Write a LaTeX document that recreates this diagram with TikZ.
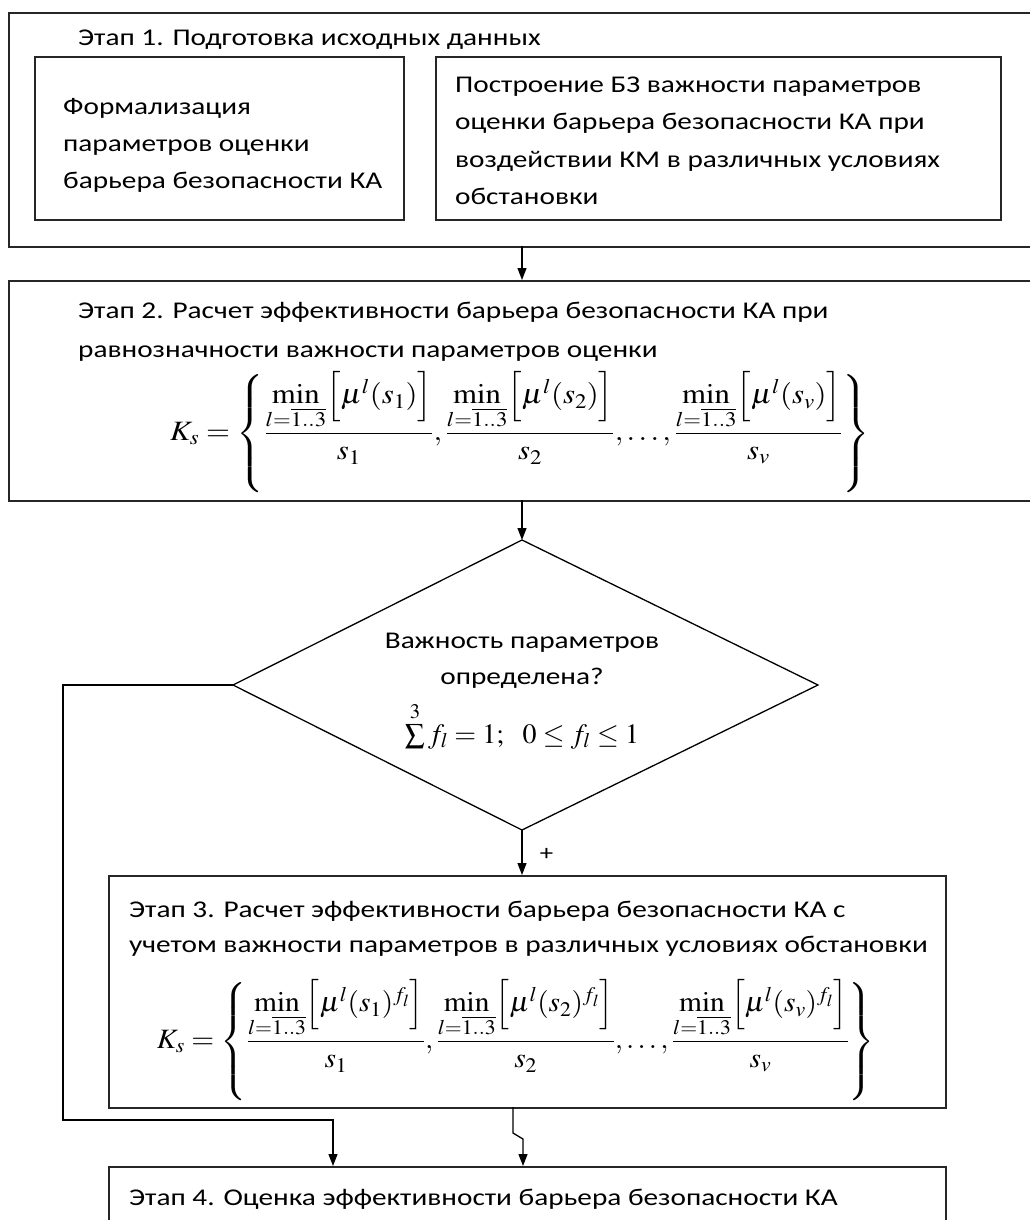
\documentclass[tikz,border=0pt]{standalone}
\usepackage{graphicx}
\usepackage{mathptmx}
\usepackage[no-math]{fontspec}
\setmainfont{Carlito}[FakeStretch=1.22]
\usetikzlibrary{arrows.meta}
\delimiterfactor=800
\delimitershortfall=20pt
\newcommand{\mnum}[1]{\min\limits_{l=\overline{1..3}}\Bigl[\mu^{l}(#1)\Bigr]}
\newcommand{\mnumf}[1]{\min\limits_{l=\overline{1..3}}\Bigl[\mu^{l}(#1)^{f_l}\Bigr]}
\begin{document}
\begin{tikzpicture}[x=1pt,y=-1pt,
  box/.style={draw=black!85, line width=1.8pt, anchor=north west, inner sep=0pt},
  txt/.style={anchor=base west, inner sep=0pt, font=\fontsize{24}{30}\selectfont},
  ctxt/.style={anchor=base, inner sep=0pt, font=\fontsize{24}{30}\selectfont},
  arr/.style={draw=black, line width=1.3pt, -{Triangle[length=12pt,width=9pt]}},
  conn/.style={draw=black, line width=1.3pt},
  frm/.style={inner sep=0pt, font=\fontsize{28}{34}\selectfont}]
\useasboundingbox (0,0) rectangle (1030,1220);
\clip (0,0) rectangle (1030,1220);
% Stage 1
\node[box, minimum width=1040pt, minimum height=234pt] (st1) at (8,12) {};
\node[txt] (t1) at (78,46) {Этап 1. Подготовка исходных данных};
\node[box, minimum width=369pt, minimum height=163pt] (b1) at (34,56) {};
\node[txt] (b1a) at (63,114) {Формализация};
\node[txt] (b1b) at (63,151) {параметров оценки};
\node[txt] (b1c) at (63,188) {барьера безопасности КА};
\node[box, minimum width=565pt, minimum height=163pt] (b2) at (435,56) {};
\node[txt] (b2a) at (455,93) {Построение БЗ важности параметров};
\node[txt] (b2b) at (455,130) {оценки барьера безопасности КА при};
\node[txt] (b2c) at (455,167) {воздействии КМ в различных условиях};
\node[txt] (b2d) at (455,204) {обстановки};
% Stage 2
\node[box, minimum width=1040pt, minimum height=220pt] (st2) at (8,280) {};
\node[txt] (t2a) at (78,318) {Этап 2. Расчет эффективности барьера безопасности КА при};
\node[txt] (t2b) at (78,357) {равнозначности важности параметров оценки};
\node[frm] (f2) at (520,432) {\scalebox{1.1}[1]{$\displaystyle K_s=\left\{\frac{\mnum{s_1}}{s_1},\frac{\mnum{s_2}}{s_2},\ldots,\frac{\mnum{s_v}}{s_v}\right\}$}};
% Decision
\coordinate (dt) at (522,540);
\coordinate (dr) at (818,685);
\coordinate (db) at (522,830);
\coordinate (dl) at (233,685);
\draw[conn] (dt) -- (dr) -- (db) -- (dl) -- cycle;
\node[ctxt] (q1) at (522,648) {Важность параметров};
\node[ctxt] (q2) at (522,684) {определена?};
\node[frm, anchor=base] (q3) at (522,743) {$\sum\limits^{3} f_l=1;\ \ 0\le f_l\le 1$};
% Stage 3
\node[box, minimum width=837pt, minimum height=232pt] (st3) at (108,875) {};
\node[txt] (t3a) at (129,917) {Этап 3. Расчет эффективности барьера безопасности КА с};
\node[txt] (t3b) at (129,952) {учетом важности параметров в различных условиях обстановки};
\node[frm] (f3) at (516,1040) {\scalebox{1.05}[1]{$\displaystyle K_s=\left\{\frac{\mnumf{s_1}}{s_1},\frac{\mnumf{s_2}}{s_2},\ldots,\frac{\mnumf{s_v}}{s_v}\right\}$}};
% Stage 4
\node[box, minimum width=837pt, minimum height=100pt] (st4) at (108,1166) {};
\node[txt] (t4) at (129,1205) {Этап 4. Оценка эффективности барьера безопасности КА};
% connectors
\coordinate (a1s) at (522,246);
\coordinate (a1e) at (522,280);
\draw[arr] (a1s) -- (a1e);
\coordinate (a2s) at (522,500);
\draw[arr] (a2s) -- (dt);
\coordinate (a3e) at (522,875);
\draw[arr] (db) -- node[right, xshift=14pt, yshift=-2pt, font=\fontsize{22}{24}\selectfont] (plus) {+} (a3e);
\coordinate (c1) at (63,1120);
\coordinate (a4e) at (333,1166);
\draw[arr] (dl) -| (c1) -| (a4e);
\coordinate (j0) at (513,1107);
\coordinate (j1) at (513,1133);
\coordinate (j2) at (523,1139);
\coordinate (a5e) at (523,1166);
\draw[arr] (j0) -- (j1) -- (j2) -- (a5e);
\end{tikzpicture}
\end{document}
